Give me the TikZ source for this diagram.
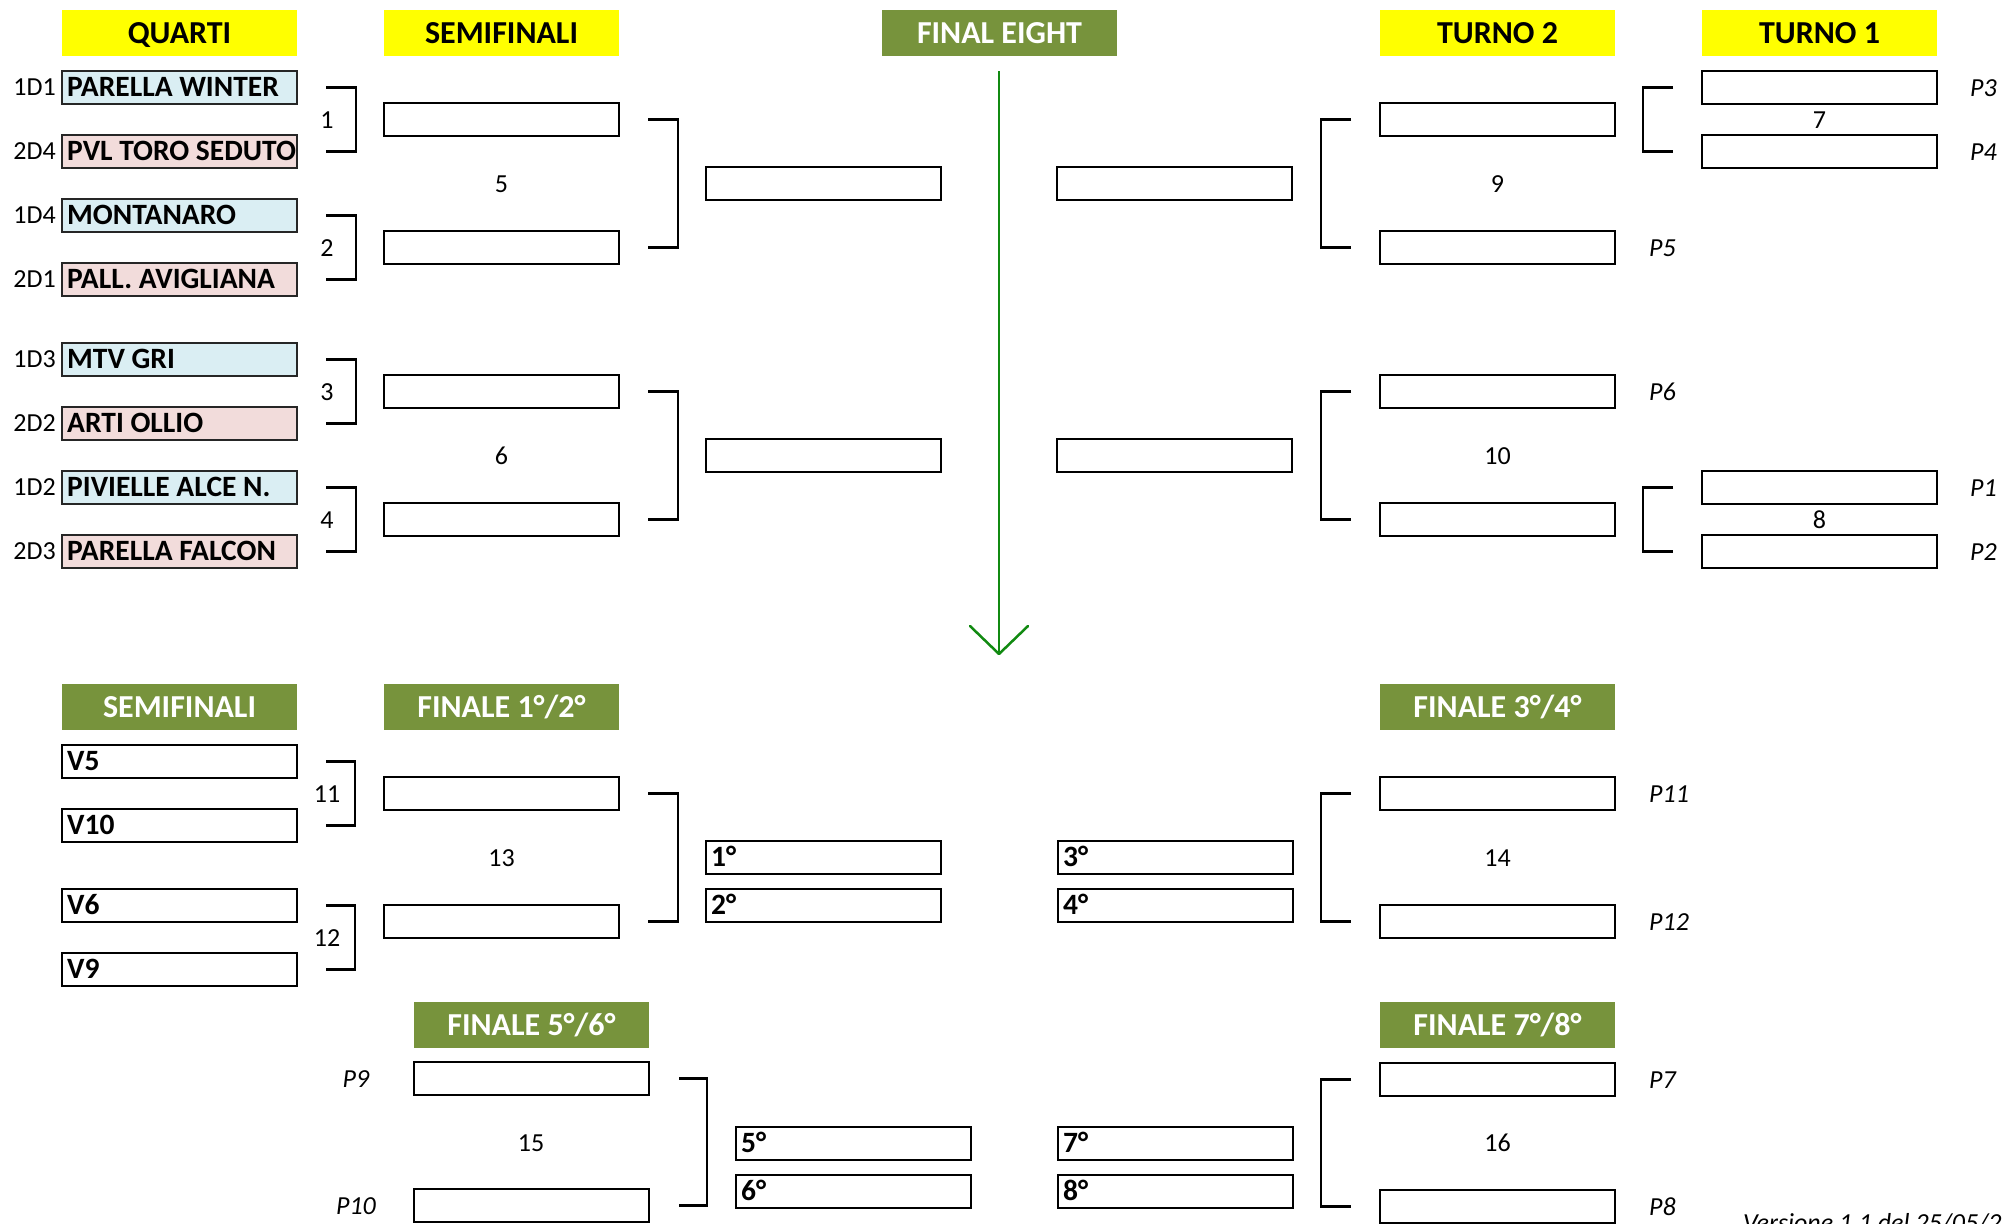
\documentclass[tikz,border=0pt]{standalone}
\usepackage{fontspec}
\setmainfont{Carlito}
\usetikzlibrary{calc}
\definecolor{hdryellow}{HTML}{FFFF00}
\definecolor{hdrgreen}{HTML}{77933C}
\definecolor{teamblue}{HTML}{DAEEF3}
\definecolor{teampink}{HTML}{F2DCDB}
\definecolor{arrowgreen}{HTML}{118A11}
\newcommand\myB{\fontsize{29.5}{34}\selectfont\bfseries}
\newcommand\myH{\fontsize{32}{38}\selectfont\bfseries}
\newcommand\myR{\fontsize{26}{31}\selectfont}
\newcommand\myI{\fontsize{26}{31}\selectfont\itshape}
\tikzset{
  cell/.style={draw=black, line width=2.5pt, minimum width=235pt, minimum height=33pt,
    anchor=north west, inner sep=0pt, outer sep=0pt},
  tblue/.style={cell, draw=black!85, fill=teamblue},
  tpink/.style={cell, draw=black!85, fill=teampink},
  hdr/.style={minimum width=235pt, minimum height=46pt, anchor=north west, inner sep=0pt,
    outer sep=0pt, font=\myH, text height=20.6pt, text depth=0pt},
  hdry/.style={hdr, fill=hdryellow, text=black},
  hdrg/.style={hdr, fill=hdrgreen, text=white},
  tlbl/.style={font=\myB, text height=18pt, text depth=0pt, inner sep=0pt, anchor=west},
  seed/.style={font=\myR, text height=16.7pt, text depth=0pt, inner sep=0pt, anchor=east},
  num/.style={font=\myR, text height=16.7pt, text depth=0pt, inner sep=0pt},
  plbl/.style={font=\myI, text height=16.7pt, text depth=0pt, inner sep=0pt, anchor=west},
  brk/.style={draw=black, line width=2.5pt},
}
\begin{document}
\begin{tikzpicture}[x=1pt,y=-1pt]
\useasboundingbox (0,0) rectangle (2004,1223);
\clip (0,0) rectangle (2004,1223);
\fill[white] (0,0) rectangle (2004,1223);

% headers
\node[hdry] (hQ) at (62,10) {QUARTI};
\node[hdry] (hS) at (384,10) {SEMIFINALI};
\node[hdrg] (hFE) at (882,10) {FINAL EIGHT};
\node[hdry] (hT2) at (1380,10) {TURNO 2};
\node[hdry] (hT1) at (1702,10) {TURNO 1};
\node[hdrg] (hS2) at (62,684) {SEMIFINALI};
\node[hdrg] (hF12) at (384,684) {FINALE 1°/2°};
\node[hdrg] (hF34) at (1380,684) {FINALE 3°/4°};
\node[hdrg] (hF56) at (414,1002) {FINALE 5°/6°};
\node[hdrg] (hF78) at (1380,1002) {FINALE 7°/8°};

% teams
\node[tblue] (a1) at (62,71) {};
\node[tpink] (a2) at (62,135) {};
\node[tblue] (a3) at (62,199) {};
\node[tpink] (a4) at (62,263) {};
\node[tblue] (a5) at (62,343) {};
\node[tpink] (a6) at (62,407) {};
\node[tblue] (a7) at (62,471) {};
\node[tpink] (a8) at (62,535) {};
\node[tlbl] (ta1) at ([xshift=5pt]a1.west) {PARELLA WINTER};
\node[tlbl] (ta2) at ([xshift=5pt]a2.west) {PVL TORO SEDUTO};
\node[tlbl] (ta3) at ([xshift=5pt]a3.west) {MONTANARO};
\node[tlbl] (ta4) at ([xshift=5pt]a4.west) {PALL. AVIGLIANA};
\node[tlbl] (ta5) at ([xshift=5pt]a5.west) {MTV GRI};
\node[tlbl] (ta6) at ([xshift=5pt]a6.west) {ARTI OLLIO};
\node[tlbl] (ta7) at ([xshift=5pt]a7.west) {PIVIELLE ALCE N.};
\node[tlbl] (ta8) at ([xshift=5pt]a8.west) {PARELLA FALCON};
\node[seed] (sa1) at ([xshift=-6pt]a1.west) {1D1};
\node[seed] (sa2) at ([xshift=-6pt]a2.west) {2D4};
\node[seed] (sa3) at ([xshift=-6pt]a3.west) {1D4};
\node[seed] (sa4) at ([xshift=-6pt]a4.west) {2D1};
\node[seed] (sa5) at ([xshift=-6pt]a5.west) {1D3};
\node[seed] (sa6) at ([xshift=-6pt]a6.west) {2D2};
\node[seed] (sa7) at ([xshift=-6pt]a7.west) {1D2};
\node[seed] (sa8) at ([xshift=-6pt]a8.west) {2D3};

% top bracket boxes
\node[cell] (b1) at (384,103) {};
\node[cell] (b2) at (384,231) {};
\node[cell] (b3) at (384,375) {};
\node[cell] (b4) at (384,503) {};
\node[cell] (c1) at (706,167) {};
\node[cell] (c2) at (706,439) {};
\node[cell] (d1) at (1057,167) {};
\node[cell] (d2) at (1057,439) {};
\node[cell] (e1) at (1380,103) {};
\node[cell] (e2) at (1380,231) {};
\node[cell] (e3) at (1380,375) {};
\node[cell] (e4) at (1380,503) {};
\node[cell] (f1) at (1702,71) {};
\node[cell] (f2) at (1702,135) {};
\node[cell] (f3) at (1702,471) {};
\node[cell] (f4) at (1702,535) {};

% top brackets
\draw[brk] ([xshift=29pt]a1.east) -- ++(30,0) |- ([xshift=29pt]a2.east);
\draw[brk] ([xshift=29pt]a3.east) -- ++(30,0) |- ([xshift=29pt]a4.east);
\draw[brk] ([xshift=29pt]a5.east) -- ++(30,0) |- ([xshift=29pt]a6.east);
\draw[brk] ([xshift=29pt]a7.east) -- ++(30,0) |- ([xshift=29pt]a8.east);
\draw[brk] ([xshift=29pt]b1.east) -- ++(30,0) |- ([xshift=29pt]b2.east);
\draw[brk] ([xshift=29pt]b3.east) -- ++(30,0) |- ([xshift=29pt]b4.east);
\draw[brk] ([xshift=-29pt]e1.west) -- ++(-30,0) |- ([xshift=-29pt]e2.west);
\draw[brk] ([xshift=-29pt]e3.west) -- ++(-30,0) |- ([xshift=-29pt]e4.west);
\draw[brk] ([xshift=-29pt]f1.west) -- ++(-30,0) |- ([xshift=-29pt]f2.west);
\draw[brk] ([xshift=-29pt]f3.west) -- ++(-30,0) |- ([xshift=-29pt]f4.west);

% match numbers
\node[num] (n1) at (327,120) {1};
\node[num] (n2) at (327,248) {2};
\node[num] (n3) at (327,392) {3};
\node[num] (n4) at (327,520.5) {4};
\node[num] (n5) at (501.5,184) {5};
\node[num] (n6) at (501.5,456.5) {6};
\node[num] (n7) at (1819.5,120) {7};
\node[num] (n8) at (1819.5,520.5) {8};
\node[num] (n9) at (1497.5,184) {9};
\node[num] (n10) at (1497.5,456.5) {10};

% P labels right
\node[plbl] (p3) at (1970,88) {P3};
\node[plbl] (p4) at (1970,152) {P4};
\node[plbl] (p1) at (1970,488) {P1};
\node[plbl] (p2) at (1970,552) {P2};
\node[plbl] (p5) at (1649,248) {P5};
\node[plbl] (p6) at (1649,392) {P6};

% green arrow
\coordinate (arS) at (999,71);
\coordinate (arE) at (999,654);
\draw[arrowgreen, line width=2.5pt] (arS) -- (arE);
\draw[arrowgreen, line width=2.5pt, line join=round, line cap=round]
  ($(arE)+(-29,-28)$) -- (arE) -- ($(arE)+(29,-28)$);

% bottom: semifinali 1-4
\node[cell] (v5) at (62,745) {};
\node[cell] (v10) at (62,809) {};
\node[cell] (v6) at (62,889) {};
\node[cell] (v9) at (62,953) {};
\node[tlbl] (tv5) at ([xshift=5pt]v5.west) {V5};
\node[tlbl] (tv10) at ([xshift=5pt]v10.west) {V10};
\node[tlbl] (tv6) at ([xshift=5pt]v6.west) {V6};
\node[tlbl] (tv9) at ([xshift=5pt]v9.west) {V9};
\draw[brk] ([xshift=29pt]v5.east) -- ++(29,0) |- ([xshift=29pt]v10.east);
\draw[brk] ([xshift=29pt]v6.east) -- ++(29,0) |- ([xshift=29pt]v9.east);
\node[num] (n11) at (327,794.5) {11};
\node[num] (n12) at (327,938.5) {12};

\node[cell] (g1) at (384,777) {};
\node[cell] (g2) at (384,905) {};
\draw[brk] ([xshift=29pt]g1.east) -- ++(30,0) |- ([xshift=29pt]g2.east);
\node[num] (n13) at (501.5,858.5) {13};

\node[cell] (q1) at (706,841) {};
\node[cell] (q2) at (706,889) {};
\node[tlbl] (tq1) at ([xshift=5pt]q1.west) {1°};
\node[tlbl] (tq2) at ([xshift=5pt]q2.west) {2°};
\node[cell] (q3) at (1058,841) {};
\node[cell] (q4) at (1058,889) {};
\node[tlbl] (tq3) at ([xshift=5pt]q3.west) {3°};
\node[tlbl] (tq4) at ([xshift=5pt]q4.west) {4°};

\node[cell] (h1) at (1380,777) {};
\node[cell] (h2) at (1380,905) {};
\draw[brk] ([xshift=-29pt]h1.west) -- ++(-30,0) |- ([xshift=-29pt]h2.west);
\node[num] (n14) at (1497.5,858.5) {14};
\node[plbl] (p11) at (1649,794) {P11};
\node[plbl] (p12) at (1649,922) {P12};

% bottom: finals 5-8
\node[cell] (k1) at (414,1062) {};
\node[cell] (k2) at (414,1189) {};
\draw[brk] ([xshift=30pt]k1.east) -- ++(28,0) |- ([xshift=30pt]k2.east);
\node[num] (n15) at (531,1143.5) {15};
\node[plbl, anchor=center] (p9) at (356,1079.5) {P9};
\node[plbl, anchor=center] (p10) at (356,1206.5) {P10};

\node[cell] (q5) at (736,1127) {};
\node[cell] (q6) at (736,1175) {};
\node[tlbl] (tq5) at ([xshift=5pt]q5.west) {5°};
\node[tlbl] (tq6) at ([xshift=5pt]q6.west) {6°};
\node[cell] (q7) at (1058,1127) {};
\node[cell] (q8) at (1058,1175) {};
\node[tlbl] (tq7) at ([xshift=5pt]q7.west) {7°};
\node[tlbl] (tq8) at ([xshift=5pt]q8.west) {8°};

\node[cell] (m1) at (1380,1063) {};
\node[cell] (m2) at (1380,1190) {};
\draw[brk] ([xshift=-29pt]m1.west) -- ++(-30,0) |- ([xshift=-29pt]m2.west);
\node[num] (n16) at (1497.5,1143.5) {16};
\node[plbl] (p7) at (1649,1080) {P7};
\node[plbl] (p8) at (1649,1207) {P8};

\node[plbl] (ver) at (1743,1223) {Versione 1.1 del 25/05/2};
\end{tikzpicture}
\end{document}
